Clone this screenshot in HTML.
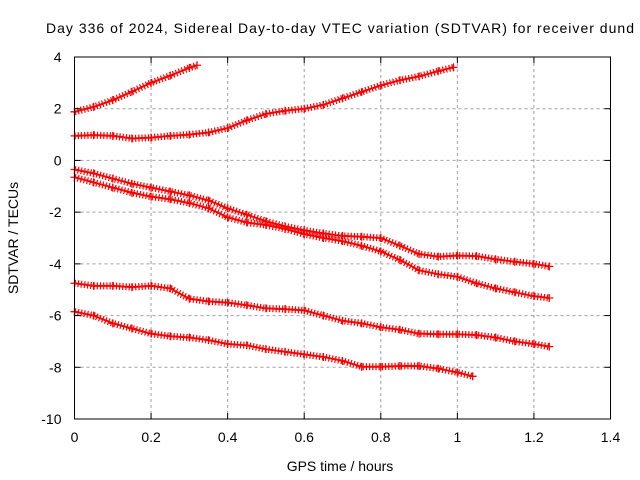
<!DOCTYPE html>
<html><head><meta charset="utf-8"><style>
body{margin:0;background:#fff;}
svg{display:block;font-family:"Liberation Sans",sans-serif;}
</style></head><body>
<svg id="chart" width="640" height="480">
<text x="340" y="33" text-anchor="middle" font-size="14" textLength="588">Day 336 of 2024, Sidereal Day-to-day VTEC variation (SDTVAR) for receiver dund</text>
<text x="340" y="471" text-anchor="middle" font-size="14">GPS time / hours</text>
<text transform="translate(18,238) rotate(-90)" text-anchor="middle" font-size="14">SDTVAR / TECUs</text>
<g id="grid"></g><g id="series"></g><g id="axes"></g>
</svg>
<script>
const xTicks=[0,0.2,0.4,0.6,0.8,1,1.2,1.4];
const yTicks=[4,2,0,-2,-4,-6,-8,-10];
const tA=[0,0.05,0.1,0.15,0.2,0.25,0.3,0.32];
const vA=[1.88,2.07,2.33,2.66,3.0,3.28,3.58,3.68];
const tB=[0,0.05,0.1,0.15,0.2,0.25,0.3,0.35,0.4,0.45,0.5,0.55,0.6,0.65,0.7,0.75,0.8,0.85,0.9,0.95,0.99];
const vB=[0.95,0.98,0.95,0.85,0.88,0.95,1.0,1.08,1.25,1.55,1.8,1.92,2.0,2.15,2.4,2.65,2.9,3.1,3.25,3.45,3.6];
const tC=[0,0.05,0.1,0.15,0.2,0.25,0.3,0.35,0.4,0.45,0.5,0.55,0.6,0.65,0.7,0.75,0.8,0.85,0.9,0.95,1.0,1.05,1.1,1.15,1.2,1.24];
const vC=[-0.35,-0.5,-0.7,-0.9,-1.05,-1.2,-1.35,-1.55,-1.85,-2.1,-2.35,-2.55,-2.7,-2.82,-2.92,-2.95,-3.0,-3.3,-3.62,-3.72,-3.68,-3.7,-3.82,-3.92,-4.0,-4.1];
const tD=[0,0.05,0.1,0.15,0.2,0.25,0.3,0.35,0.4,0.45,0.5,0.55,0.6,0.65,0.7,0.75,0.8,0.85,0.9,0.95,1.0,1.05,1.1,1.15,1.2,1.24];
const vD=[-0.65,-0.85,-1.05,-1.25,-1.4,-1.5,-1.65,-1.85,-2.2,-2.4,-2.5,-2.65,-2.85,-3.0,-3.12,-3.3,-3.52,-3.85,-4.25,-4.4,-4.5,-4.75,-4.95,-5.1,-5.25,-5.32];
const tE=[0,0.05,0.1,0.15,0.2,0.25,0.3,0.35,0.4,0.45,0.5,0.55,0.6,0.65,0.7,0.75,0.8,0.85,0.9,0.95,1.0,1.05,1.1,1.15,1.2,1.24];
const vE=[-4.75,-4.85,-4.85,-4.9,-4.85,-4.95,-5.35,-5.45,-5.5,-5.6,-5.72,-5.75,-5.8,-6.0,-6.2,-6.3,-6.45,-6.55,-6.7,-6.72,-6.72,-6.75,-6.85,-7.0,-7.1,-7.2];
const tF=[0,0.05,0.1,0.15,0.2,0.25,0.3,0.35,0.4,0.45,0.5,0.55,0.6,0.65,0.7,0.75,0.8,0.85,0.9,0.95,1.0,1.04];
const vF=[-5.85,-6.0,-6.3,-6.5,-6.7,-6.8,-6.85,-6.95,-7.1,-7.15,-7.3,-7.4,-7.5,-7.6,-7.75,-7.98,-7.98,-7.95,-7.95,-8.05,-8.2,-8.35];
const seriesT=[tA,tB,tC,tD,tE,tF];
const seriesV=[vA,vB,vC,vD,vE,vF];
const X0=74.5,X1=610.5,Y0=57,Y1=419;
function sx(t){return X0+(t-0)/(1.4-0)*(X1-X0);}
function sy(v){return Y0+(4-v)/(4-(-10))*(Y1-Y0);}
const NS='http://www.w3.org/2000/svg';
function mk(tag,attrs,parent){const e=document.createElementNS(NS,tag);for(const k in attrs)e.setAttribute(k,attrs[k]);parent.appendChild(e);return e;}
const grid=document.getElementById('grid'),axes=document.getElementById('axes'),ser=document.getElementById('series');
xTicks.forEach(t=>{
  const x=sx(t);
  if(t>0&&t<1.4){const g=mk('line',{x1:x,y1:Y0,x2:x,y2:Y1,stroke:'#a0a0a0','stroke-dasharray':'3,3'},grid);
  
  }
  mk('line',{x1:x,y1:Y1,x2:x,y2:Y1-6,stroke:'#000'},axes);
  mk('line',{x1:x,y1:Y0,x2:x,y2:Y0+6,stroke:'#000'},axes);
  const l=mk('text',{x:x,y:Y1+23,'text-anchor':'middle','font-size':'14'},axes);
  l.textContent=String(t);
  
  
});
yTicks.forEach(v=>{
  const y=sy(v);
  if(v<4&&v>-10){const g=mk('line',{x1:X0,y1:y,x2:X1,y2:y,stroke:'#a0a0a0','stroke-dasharray':'3,3'},grid);
  
  }
  mk('line',{x1:X0,y1:y,x2:X0+6,y2:y,stroke:'#000'},axes);
  mk('line',{x1:X1,y1:y,x2:X1-6,y2:y,stroke:'#000'},axes);
  const l=mk('text',{x:X0-13,y:y+5,'text-anchor':'end','font-size':'14'},axes);
  l.textContent=String(v);
  
  
});
const frame=mk('rect',{x:X0,y:Y0,width:X1-X0,height:Y1-Y0,fill:'none',stroke:'#000'},axes);


seriesT.forEach((ts,i)=>{
  const vs=seriesV[i];
  const g=mk('g',{},ser);
  
  
  const pts=ts.map((t,j)=>sx(t)+','+sy(vs[j])).join(' ');
  mk('polyline',{points:pts,fill:'none',stroke:'#f00','stroke-width':'2'},g);
  mk('polyline',{points:pts,fill:'none',stroke:'#f00','stroke-width':'7','stroke-dasharray':'1.2,2','stroke-linejoin':'bevel'},g);
  ts.forEach((t,j)=>{
    const x=sx(t),y=sy(vs[j]);
    const p=mk('path',{d:`M${x-4},${y}H${x+4}M${x},${y-4}V${y+4}`,stroke:'#f00','stroke-width':'1.3'},g);
    
    
  });
});
</script>
</body></html>
